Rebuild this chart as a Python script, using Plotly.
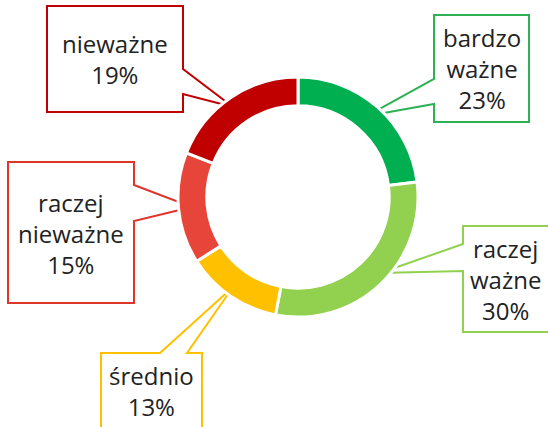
import plotly.graph_objects as go

# Data
categories = ["bardzo ważne", "raczej ważne", "średnio", "raczej nieważne", "nieważne"]
values = [23, 30, 13, 15, 19]
label_texts = ["bardzo<br>ważne<br>23%", "raczej<br>ważne<br>30%", "średnio<br>13%",
               "raczej<br>nieważne<br>15%", "nieważne<br>19%"]

# Styles
colors = ["#00B050", "#92D050", "#FFC000", "#E8453A", "#C00000"]
line_colors = ["#2EB153", "#92D050", "#FFC000", "#E0352B", "#C00000"]

W, H = 548, 427

def px(x):
    return x / W

def py(y):
    return 1 - y / H

fig = go.Figure()
cx, cy, r = 298, 197, 120
fig.add_trace(go.Pie(
    labels=categories, values=values, sort=False, direction="clockwise",
    rotation=0, hole=0.76, textinfo="none", hoverinfo="label+percent",
    marker=dict(colors=colors, line=dict(color="white", width=3)),
    domain=dict(x=[px(cx - r), px(cx + r)], y=[py(cy + r), py(cy - r)]),
    showlegend=False,
))

# Callout geometry (pixels): polygon outline with pointer wedge
callouts = [
    # bardzo ważne
    dict(pts=[(434, 15), (529, 15), (529, 122), (434, 122), (434, 104), (367, 116), (434, 79)],
         center=(481.5, 68.5)),
    # raczej ważne
    dict(pts=[(463, 226), (550, 226), (550, 332), (463, 332), (463, 271), (380, 273), (463, 244)],
         center=(505, 279)),
    # średnio
    dict(pts=[(101, 353), (160, 353), (233, 287), (187, 353), (202, 353), (202, 430), (101, 430)],
         center=(151, 391)),
    # raczej nieważne
    dict(pts=[(8, 162), (134, 162), (134, 185), (192, 207), (134, 221), (134, 303), (8, 303)],
         center=(71, 233)),
    # nieważne
    dict(pts=[(47, 6), (183, 6), (183, 69), (233, 107), (183, 94), (183, 112), (47, 112)],
         center=(115, 59)),
]

shapes = []
annotations = []
for i, c in enumerate(callouts):
    path = "M " + " L ".join(f"{px(x):.5f},{py(y):.5f}" for x, y in c["pts"]) + " Z"
    shapes.append(dict(type="path", path=path, xref="paper", yref="paper",
                       line=dict(color=line_colors[i], width=2), fillcolor="white",
                       layer="below"))
    annotations.append(dict(text=label_texts[i], x=px(c["center"][0]), y=py(c["center"][1]),
                            xref="paper", yref="paper", showarrow=False,
                            xanchor="center", yanchor="middle", align="center",
                            font=dict(family="Open Sans", size=24, color="#222222")))

fig.update_layout(
    width=W, height=H, margin=dict(l=0, r=0, t=0, b=0),
    paper_bgcolor="white", plot_bgcolor="white",
    shapes=shapes, annotations=annotations,
)

fig.write_html("out.html", config={"displayModeBar": False},
               post_script="document.body.style.margin='0';document.body.style.overflow='hidden';")
